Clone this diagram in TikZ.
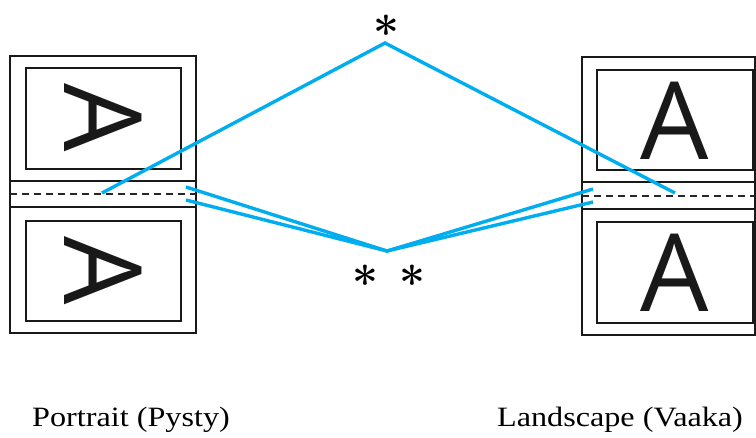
\documentclass[tikz,border=0pt]{standalone}
\usepackage{fontspec}
\setmainfont{Liberation Serif}
\newfontfamily\letterfont{Open Sans}
\newfontfamily\capfont[FakeStretch=1.15]{Liberation Serif}
\newfontfamily\lmstarfont{Latin Modern Roman}
\definecolor{eblue}{RGB}{0,174,239}
\tikzset{
  frame/.style={draw=black!90, line width=2pt},
  fold/.style={draw=black!85, line width=1.5pt, dash pattern=on 7pt off 5pt},
  guide/.style={draw=eblue, line width=3.4pt, line join=miter},
  bigA/.style={inner sep=0pt, font=\letterfont\fontsize{108}{108}\selectfont, text=black!90},
  star/.style={inner sep=0pt, anchor=base, font=\lmstarfont\bfseries\fontsize{46}{46}\selectfont},
  caption/.style={inner sep=0pt, anchor=base, font=\capfont\fontsize{28}{30}\selectfont}
}
\begin{document}
\begin{tikzpicture}[x=1pt,y=-1pt]
\useasboundingbox (0,0) rectangle (756,437);
% portrait
\draw[frame] (10,56) rectangle (196,333);
\draw[frame] (10,181) -- (196,181);
\draw[frame] (10,207) -- (196,207);
\draw[frame] (26,68) rectangle (181,169);
\draw[frame] (26,221) rectangle (181,321);
\draw[fold] (10,194) -- (196,194);
\node[bigA, rotate=-90] (pa1) at (103,118) {A};
\node[bigA, rotate=-90] (pa2) at (103,271) {A};
% landscape
\draw[frame] (582,57) rectangle (755,335);
\draw[frame] (582,182) -- (755,182);
\draw[frame] (582,209) -- (755,209);
\draw[frame] (597,70) rectangle (753,170);
\draw[frame] (597,222) rectangle (753,323);
\draw[fold] (582,196) -- (755,196);
\node[bigA] (la1) at (675,121) {A};
\node[bigA] (la2) at (675,273) {A};
% guide lines
\coordinate (top) at (385,43);
\coordinate (bot) at (387,251);
\coordinate (pfold) at (102,193);
\coordinate (lfold) at (675,193);
\coordinate (pe1) at (186,187);
\coordinate (pe2) at (186,200);
\coordinate (le1) at (593,189);
\coordinate (le2) at (593,202);
\draw[guide] (pfold) -- (top) -- (lfold);
\draw[guide] (pe1) -- (bot) -- (le1);
\draw[guide] (pe2) -- (bot) -- (le2);
% asterisks
\node[star] (s1) at (386,49) {*};
\node[star] (s2) at (365,299) {*};
\node[star] (s3) at (412,299) {*};
% captions
\node[caption] (cp) at (131,426) {Portrait (Pysty)};
\node[caption] (cl) at (620,426) {Landscape (Vaaka)};
\end{tikzpicture}
\end{document}
